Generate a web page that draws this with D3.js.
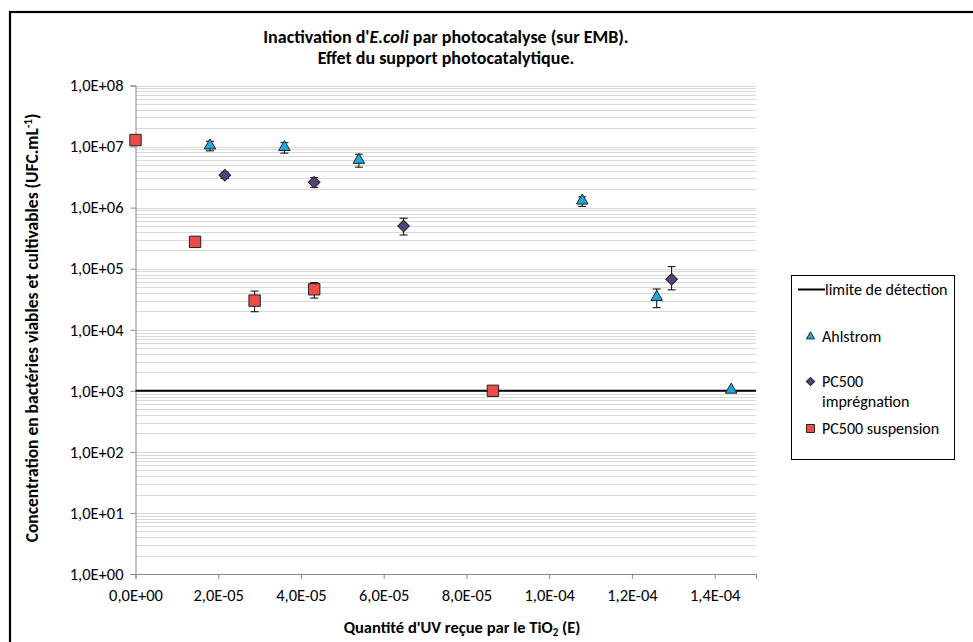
<!DOCTYPE html>
<html>
<head>
<meta charset="utf-8">
<script src="https://cdn.jsdelivr.net/npm/d3@7"></script>
<style>
  body { margin: 0; background: #fff; }
  svg { font-family: Carlito, "Liberation Sans Narrow", "Open Sans", sans-serif; }
</style>
</head>
<body>
<div id="chart"></div>
<script>
// x values (E) and concentrations (UFC/mL)
const ahlstromX = [1.8e-5, 3.6e-5, 5.4e-5, 1.08e-4, 1.26e-4, 1.44e-4];
const ahlstromY = [1.0e7, 9.4e6, 5.8e6, 1.25e6, 3.3e4, 1.0e3];
const ahlstromLow = [8.5e6, 7.8e6, 4.6e6, 1.05e6, 2.3e4, 1.0e3];
const ahlstromHigh = [1.22e7, 1.16e7, 7.5e6, 1.5e6, 4.65e4, 1.0e3];

const impX = [2.16e-5, 4.32e-5, 6.48e-5, 1.296e-4];
const impY = [3.4e6, 2.6e6, 5.0e5, 6.7e4];
const impLow = [3.0e6, 2.15e6, 3.56e5, 4.5e4];
const impHigh = [3.8e6, 3.1e6, 6.7e5, 1.08e5];

const suspX = [0, 1.44e-5, 2.88e-5, 4.32e-5, 8.64e-5];
const suspY = [1.28e7, 2.75e5, 3.0e4, 4.6e4, 1.0e3];
const suspLow = [1.28e7, 2.35e5, 1.97e4, 3.3e4, 1.0e3];
const suspHigh = [1.28e7, 3.1e5, 4.3e4, 5.9e4, 1.0e3];

const detectionLimit = 1.0e3;
const xTicks = [0, 2e-5, 4e-5, 6e-5, 8e-5, 1e-4, 1.2e-4, 1.4e-4];
const yTicks = [1, 10, 100, 1e3, 1e4, 1e5, 1e6, 1e7, 1e8];

const width = 973;
const height = 642;
const plot = { left: 135.5, right: 756, top: 85.5, bottom: 574 };
const font = 'Carlito, "Liberation Sans Narrow", "Open Sans", sans-serif';

const svg = d3.select('#chart').append('svg')
  .attr('width', width)
  .attr('height', height);

// outer frame
svg.append('rect')
  .attr('x', 10).attr('y', 12)
  .attr('width', 1000).attr('height', 700)
  .attr('fill', '#fff')
  .attr('stroke', '#000')
  .attr('stroke-width', 2.2);

const x = d3.scaleLinear().domain([0, 1.5e-4]).range([plot.left, plot.right]);
const y = d3.scaleLog().domain([1, 1e8]).range([plot.bottom, plot.top]);

const fmtX = (v) => {
  if (v === 0) return '0,0E+00';
  const e = Math.floor(Math.log10(v) + 1e-9);
  const m = v / Math.pow(10, e);
  const sign = e < 0 ? '-' : '+';
  return `${m.toFixed(1).replace('.', ',')}E${sign}${String(Math.abs(e)).padStart(2, '0')}`;
};
const fmtY = (v) => `1,0E+${String(Math.round(Math.log10(v))).padStart(2, '0')}`;

// minor + major grid lines on log scale
const gridVals = [];
for (let e = 0; e < 8; e++) {
  for (let k = 1; k <= 9; k++) gridVals.push(k * Math.pow(10, e));
}
gridVals.push(1e8);

svg.append('g')
  .selectAll('line')
  .data(gridVals)
  .enter()
  .append('line')
  .attr('x1', plot.left)
  .attr('x2', plot.right)
  .attr('y1', (d) => Math.round(y(d)) + 0.5)
  .attr('y2', (d) => Math.round(y(d)) + 0.5)
  .attr('stroke', '#d9d9d9')
  .attr('stroke-width', 1);

// axes
const yAxis = svg.append('g')
  .attr('transform', `translate(${plot.left},0)`)
  .call(d3.axisLeft(y).tickValues(yTicks).tickFormat(fmtY).tickSize(5).tickPadding(7));
const xAxis = svg.append('g')
  .attr('transform', `translate(0,${plot.bottom})`)
  .call(d3.axisBottom(x).tickValues(xTicks).tickFormat(fmtX).tickSize(5).tickPadding(10));

[yAxis, xAxis].forEach((a) => {
  a.select('.domain').attr('stroke', '#888');
  a.selectAll('.tick line').attr('stroke', '#888');
  a.selectAll('.tick text')
    .attr('font-family', font)
    .attr('font-size', 16.5)
    .attr('fill', '#000');
});

// detection limit
svg.append('line')
  .attr('x1', plot.left)
  .attr('x2', plot.right)
  .attr('y1', y(detectionLimit))
  .attr('y2', y(detectionLimit))
  .attr('stroke', '#000')
  .attr('stroke-width', 2);

const series = [
  { name: 'Ahlstrom', xs: ahlstromX, ys: ahlstromY, lo: ahlstromLow, hi: ahlstromHigh, shape: d3.symbolTriangle, size: 58, rot: 0, fill: '#1fa6df', dy: -1 },
  { name: 'PC500 imprégnation', xs: impX, ys: impY, lo: impLow, hi: impHigh, shape: d3.symbolSquare, size: 68, rot: 45, fill: '#5b3f7f', dy: 0 },
  { name: 'PC500 suspension', xs: suspX, ys: suspY, lo: suspLow, hi: suspHigh, shape: d3.symbolSquare, size: 130, rot: 0, fill: '#ef4a4a', dy: 0 },
];

series.forEach((s) => {
  const rows = s.xs.map((v, i) => ({ x: v, y: s.ys[i], lo: s.lo[i], hi: s.hi[i] }));
  const g = svg.append('g');
  const err = g.selectAll('g.err').data(rows.filter((d) => d.hi > d.lo)).enter().append('g');
  err.append('line')
    .attr('x1', (d) => x(d.x)).attr('x2', (d) => x(d.x))
    .attr('y1', (d) => y(d.lo)).attr('y2', (d) => y(d.hi))
    .attr('stroke', '#000').attr('stroke-width', 1);
  ['lo', 'hi'].forEach((k) => {
    err.append('line')
      .attr('x1', (d) => x(d.x) - 4).attr('x2', (d) => x(d.x) + 4)
      .attr('y1', (d) => y(d[k])).attr('y2', (d) => y(d[k]))
      .attr('stroke', '#000').attr('stroke-width', 1);
  });
  g.selectAll('path.mk').data(rows).enter().append('path')
    .attr('d', d3.symbol().type(s.shape).size(s.size))
    .attr('transform', (d) => `translate(${x(d.x)},${y(d.y) + s.dy}) rotate(${s.rot})`)
    .attr('fill', s.fill)
    .attr('stroke', '#222')
    .attr('stroke-width', 1);
});

// title
const title = svg.append('text')
  .attr('x', 446).attr('y', 43)
  .attr('text-anchor', 'middle')
  .attr('font-size', 18).attr('font-weight', 'bold');
title.append('tspan').text("Inactivation d'");
title.append('tspan').attr('font-style', 'italic').text('E.coli');
title.append('tspan').text(' par photocatalyse (sur EMB).');
svg.append('text')
  .attr('x', 446).attr('y', 64)
  .attr('text-anchor', 'middle')
  .attr('font-size', 18).attr('font-weight', 'bold')
  .text('Effet du support photocatalytique.');

// axis titles
const yTitle = svg.append('text')
  .attr('transform', 'translate(38,328) rotate(-90)')
  .attr('text-anchor', 'middle')
  .attr('font-size', 17.5).attr('font-weight', 'bold');
yTitle.append('tspan').text('Concentration en bactéries viables et cultivables (UFC.mL');
yTitle.append('tspan').attr('font-size', 11).attr('dy', -6).text('-1');
yTitle.append('tspan').attr('dy', 6).text(')');

const xTitle = svg.append('text')
  .attr('x', 462).attr('y', 633)
  .attr('text-anchor', 'middle')
  .attr('font-size', 16.5).attr('font-weight', 'bold');
xTitle.append('tspan').text("Quantité d'UV reçue par le TiO");
xTitle.append('tspan').attr('font-size', 11).attr('dy', 3).text('2');
xTitle.append('tspan').attr('dy', -3).text(' (E)');

// legend
const legend = svg.append('g').attr('font-size', 16);
legend.append('rect')
  .attr('x', 791.5).attr('y', 275.5)
  .attr('width', 163).attr('height', 184)
  .attr('fill', '#fff').attr('stroke', '#000').attr('stroke-width', 1);
legend.append('line')
  .attr('x1', 798).attr('x2', 825).attr('y1', 289.5).attr('y2', 289.5)
  .attr('stroke', '#000').attr('stroke-width', 2);
legend.append('text').attr('x', 825).attr('y', 295).text('limite de détection');

const legendRows = [
  { s: series[0], y: 336.5, lines: ['Ahlstrom'] },
  { s: series[1], y: 381.5, lines: ['PC500', 'imprégnation'] },
  { s: series[2], y: 428.5, lines: ['PC500 suspension'] },
];
legendRows.forEach((r) => {
  legend.append('path')
    .attr('d', d3.symbol().type(r.s.shape).size(r.s.size * 0.5))
    .attr('transform', `translate(810.5,${r.y}) rotate(${r.s.rot})`)
    .attr('fill', r.s.fill).attr('stroke', '#222').attr('stroke-width', 1);
  r.lines.forEach((t, i) => {
    legend.append('text').attr('x', 822).attr('y', r.y + 5.5 + i * 20).text(t);
  });
});
</script>
</body>
</html>
